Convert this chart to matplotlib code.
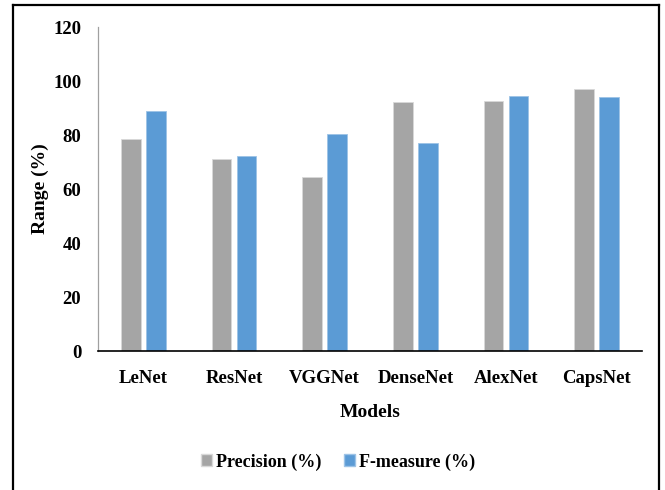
import numpy as np
import matplotlib
matplotlib.use('Agg')
import matplotlib.pyplot as plt
from matplotlib.lines import Line2D
from matplotlib.patches import Patch

models = ['LeNet', 'ResNet', 'VGGNet', 'DenseNet', 'AlexNet', 'CapsNet']
precision = [78.4, 71.1, 64.3, 92.1, 92.5, 97.0]
f_measure = [88.8, 72.3, 80.4, 77.0, 94.4, 94.1]
yticks = [0, 20, 40, 60, 80, 100, 120]

gray = '#A5A5A5'
blue = '#5B9BD5'

plt.rcParams['font.family'] = ['Liberation Serif', 'DejaVu Serif']
plt.rcParams['font.weight'] = 'bold'

fig = plt.figure(figsize=(6.65, 4.9), dpi=100)
ax = fig.add_axes([98 / 665, 1 - 351 / 490, 544 / 665, 324 / 490])

x = np.arange(len(models))
w = 0.22
off = 0.138
ax.bar(x - off, precision, w, color=gray, edgecolor='#D9D9D9', linewidth=0.6)
ax.bar(x + off, f_measure, w, color=blue, edgecolor='#9DC3E6', linewidth=0.6)

ax.set_xlim(-0.5, len(models) - 0.5)
ax.set_ylim(0, 120)
ax.set_yticks(yticks)
ax.set_xticks(x)
ax.set_xticklabels(models, fontsize=13.5, fontweight='bold')
ax.set_yticklabels([str(v) for v in yticks], fontsize=13.5, fontweight='bold')
ax.tick_params(axis='y', length=0, pad=12)
ax.tick_params(axis='x', length=0, pad=14)

for s in ['top', 'right']:
    ax.spines[s].set_visible(False)
ax.spines['left'].set_color('#A0A0A0')
ax.spines['left'].set_linewidth(0.9)
ax.spines['bottom'].set_color('black')
ax.spines['bottom'].set_linewidth(1.2)

ax.set_xlabel('Models', fontsize=14, fontweight='bold', labelpad=12)
ax.set_ylabel('Range (%)', fontsize=14, fontweight='bold', labelpad=3)

handles = [Patch(facecolor=gray, edgecolor='#D9D9D9', label='Precision (%)'),
           Patch(facecolor=blue, edgecolor='#9DC3E6', label='F-measure (%)')]
fig.legend(handles=handles, loc='center', bbox_to_anchor=(338 / 665, 1 - 462 / 490),
           ncol=2, frameon=False, handlelength=0.6, handleheight=0.6,
           handletextpad=0.2, columnspacing=1.3, prop={'weight': 'bold', 'size': 13})

# outer frame (bottom edge is cut off in the reference)
fx0, fx1, fy1 = 12.7 / 665, 658.5 / 665, 1 - 5.5 / 490
for xs, ys in [([fx0, fx0], [0, fy1]), ([fx0, fx1], [fy1, fy1]), ([fx1, fx1], [fy1, 0])]:
    fig.add_artist(Line2D(xs, ys, color='black', linewidth=1.6, transform=fig.transFigure))

fig.savefig('out.png', dpi=100)
